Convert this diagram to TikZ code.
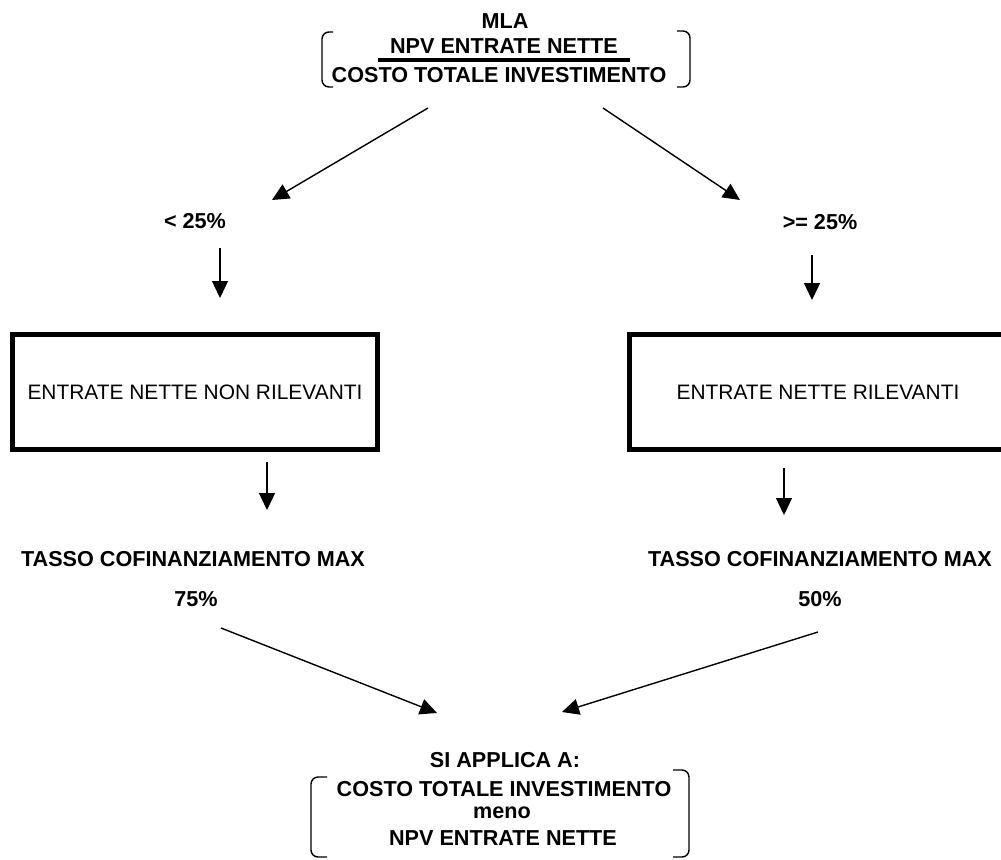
\documentclass[tikz,border=0pt]{standalone}
\usepackage{fontspec}
\setmainfont{Liberation Sans}
\usetikzlibrary{arrows.meta, positioning}

\begin{document}
\begin{tikzpicture}[x=0.02cm, y=-0.02cm, >={Triangle[length=0.34cm, width=0.32cm]}]

% =========================
% Styles (ALL IN ONE BLOCK)
% =========================
\tikzset{
    tag/.style={font=\fontsize{12.3}{14}\selectfont\bfseries, inner sep=0pt},
    box/.style={draw, line width=2.8pt, minimum height=2.3cm, inner sep=0pt, font=\fontsize{11.9}{14}\selectfont},
    arrow/.style={->, line width=0.8pt},
    bracket/.style={line width=0.8pt, rounded corners=4pt},
    fracbar/.style={line width=2.2pt}
}

\useasboundingbox (0,0) rectangle (1001,859);

% =========================
% MLA ratio
% =========================
\node[tag] (mla) at (505,21) {MLA};
\node[tag] (npv) at (504,46) {NPV ENTRATE NETTE};
\node[tag] (cti) at (499,75) {COSTO TOTALE INVESTIMENTO};
\draw[fracbar] (378,60) -- (630,60);
\draw[bracket] (333,32) -| (322,87) -- (333,87);
\draw[bracket] (677,31) -| (690,87) -- (677,87);

% =========================
% Thresholds
% =========================
\node[tag] (low) at (195,221) {< 25\%};
\node[tag] (high) at (820,222) {>= 25\%};

% =========================
% Net revenue boxes
% =========================
\node[box, minimum width=7.3cm] (nonril) at (195,392) {ENTRATE NETTE NON RILEVANTI};
\node[box, minimum width=7.54cm] (ril) at (818,392) {ENTRATE NETTE RILEVANTI};

% =========================
% Max co-financing rates
% =========================
\node[tag] (tassoL) at (193,559) {TASSO COFINANZIAMENTO MAX};
\node[tag] (rateL) at (196,599) {75\%};
\node[tag] (tassoR) at (820,559) {TASSO COFINANZIAMENTO MAX};
\node[tag] (rateR) at (820,599) {50\%};

% =========================
% Applied to
% =========================
\node[tag] (apply) at (505,760) {SI APPLICA A:};
\node[tag] (ctiB) at (504,789) {COSTO TOTALE INVESTIMENTO};
\node[tag] (meno) at (502,813) {meno};
\node[tag] (npvB) at (503,838) {NPV ENTRATE NETTE};
\draw[bracket] (327,777) -| (311,857) -- (327,857);
\draw[bracket] (673,770) -| (689,857) -- (673,857);

% =========================
% Arrows
% =========================
\coordinate (splitL) at (428,108);    \coordinate (lowIn) at (272,200);
\coordinate (splitR) at (603,108);    \coordinate (highIn) at (740,200);
\coordinate (lowOut) at (220,248);    \coordinate (nonrilIn) at (220,298);
\coordinate (highOut) at (812,255);   \coordinate (rilIn) at (812,300);
\coordinate (nonrilOut) at (267,462); \coordinate (tassoLIn) at (267,510);
\coordinate (rilOut) at (784,468);    \coordinate (tassoRIn) at (784,515);
\coordinate (rateLOut) at (221,628);  \coordinate (applyL) at (437,713);
\coordinate (rateROut) at (818,632);  \coordinate (applyR) at (562,712);

\foreach \a/\b in {splitL/lowIn, splitR/highIn, lowOut/nonrilIn, highOut/rilIn,
                   nonrilOut/tassoLIn, rilOut/tassoRIn, rateLOut/applyL, rateROut/applyR} {
    \draw[arrow] (\a) -- (\b);
}

\end{tikzpicture}
\end{document}
